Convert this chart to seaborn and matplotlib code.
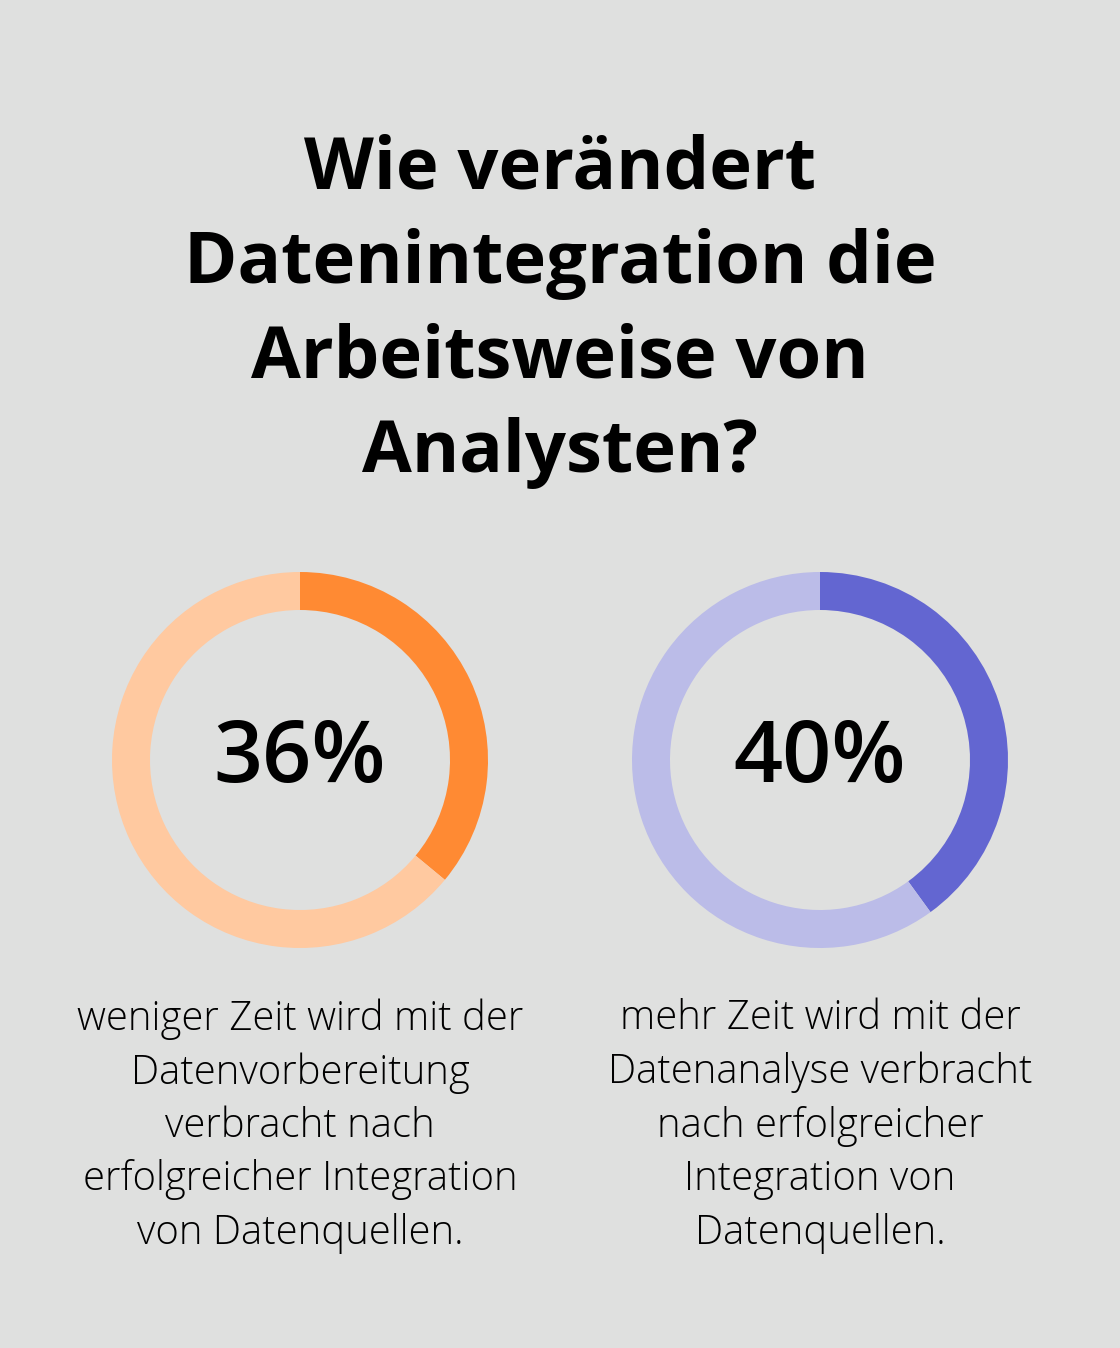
import matplotlib.pyplot as plt
import seaborn as sns

# data
title = "Wie verändert\nDatenintegration die\nArbeitsweise von\nAnalysten?"
shares = [36, 40]
labels = ["36%", "40%"]
captions = [
    "weniger Zeit wird mit der\nDatenvorbereitung\nverbracht nach\nerfolgreicher Integration\nvon Datenquellen.",
    "mehr Zeit wird mit der\nDatenanalyse verbracht\nnach erfolgreicher\nIntegration von\nDatenquellen.",
]
main_colors = ["#FF8A33", "#6366D1"]
rest_colors = ["#FFC9A0", "#BBBCE8"]

sns.set_style("white")
plt.rcParams['font.family'] = ['Open Sans', 'DejaVu Sans']
bg = "#DFE0DF"

W, H = 1120, 1348
fig = plt.figure(figsize=(W / 100, H / 100), dpi=100, facecolor=bg)

fig.text(0.5, 1 - 311 / H, title, ha='center', va='center', fontsize=52,
         fontweight='bold', color='#000000', linespacing=1.41)

centers = [300, 820]
R = 188
for i, cx in enumerate(centers):
    ax = fig.add_axes([(cx - R) / W, (H - 760 - R) / H, 2 * R / W, 2 * R / H])
    ax.pie([shares[i], 100 - shares[i]], colors=[main_colors[i], rest_colors[i]],
           startangle=90, counterclock=False, radius=1,
           wedgeprops=dict(width=38 / R, edgecolor='none'))
    ax.set_aspect('equal')
    ax.set_xlim(-1, 1)
    ax.set_ylim(-1, 1)
    ax.axis('off')
    ax.text(0, 0, labels[i], ha='center', va='center', fontsize=62,
            fontweight='semibold', color='#000000')
    fig.text(cx / W, 1 - 1126 / H, captions[i], ha='center', va='center',
             fontsize=28.8, fontweight='light', color='#000000', linespacing=1.4)

plt.savefig('out.png', dpi=100, facecolor=bg)
